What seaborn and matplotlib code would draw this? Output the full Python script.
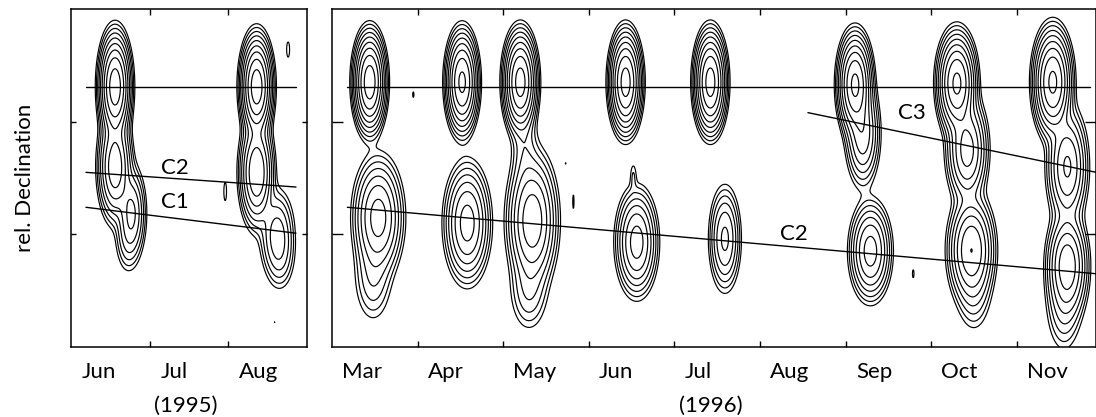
import numpy as np
import matplotlib
matplotlib.use("Agg")
import matplotlib.pyplot as plt
import matplotlib.transforms as mtransforms
import seaborn as sns

# ---------------- data ----------------
months_1995 = ["Jun", "Jul", "Aug"]
months_1996 = ["Mar", "Apr", "May", "Jun", "Jul", "Aug", "Sep", "Oct", "Nov"]

# Gaussian components (x in months from panel start, y = rel. Dec.)
p95_x   = [0.56, 0.56, 0.77, 0.72, 2.36, 2.36, 2.62, 2.66, 1.96, 2.76, 2.59]
p95_y   = [2.31, 1.60, 1.19, 0.95, 2.31, 1.55, 1.00, 0.80, 1.38, 2.64, 0.22]
p95_amp = [1.00, 0.35, 0.15, 0.03, 1.00, 0.40, 0.10, 0.03, 0.0100, 0.0100, 0.0085]
p95_sx  = [0.081, 0.09, 0.08, 0.08, 0.081, 0.09, 0.10, 0.09, 0.025, 0.028, 0.006]
p95_sy  = [0.19, 0.20, 0.18, 0.15, 0.18, 0.20, 0.18, 0.15, 0.12, 0.10, 0.03]

p96_x   = [0.44, 0.54, 0.48,  1.52, 1.58,  2.20, 2.25, 2.34, 2.30,  3.43, 3.56, 3.52,
           4.42, 4.59,  6.11, 6.20, 6.29,  7.30, 7.42, 7.47, 7.50,  8.42, 8.59, 8.59, 8.55,
           0.95, 2.73, 2.82, 6.79]
p96_y   = [2.35, 1.15, 0.62,  2.35, 1.10,  2.35, 1.75, 1.12, 0.50,  2.35, 0.93, 1.52,
           2.35, 0.96,  2.33, 1.90, 0.85,  2.34, 1.75, 0.86, 0.48,  2.35, 1.60, 0.72, 0.35,
           2.24, 1.63, 1.29, 0.65]
p96_amp = [1.00, 0.30, 0.04,  0.80, 0.30,  0.90, 0.03, 0.35, 0.04,  0.90, 0.30, 0.013,
           0.90, 0.15,  0.80, 0.20, 0.30,  0.80, 0.30, 0.40, 0.03,  0.80, 0.25, 0.35, 0.04,
           0.0090, 0.0085, 0.0095, 0.0095]
p96_sx  = [0.075, 0.12, 0.11,  0.075, 0.11,  0.078, 0.08, 0.12, 0.11,  0.075, 0.10, 0.025,
           0.075, 0.08,  0.08, 0.085, 0.10,  0.09, 0.10, 0.11, 0.10,  0.09, 0.10, 0.10, 0.10,
           0.015, 0.008, 0.012, 0.015]
p96_sy  = [0.176, 0.22, 0.20,  0.18, 0.217,  0.18, 0.20, 0.25, 0.18,  0.18, 0.195, 0.08,
           0.18, 0.20,  0.18, 0.20, 0.18,  0.18, 0.20, 0.20, 0.18,  0.19, 0.22, 0.20, 0.20,
           0.05, 0.015, 0.10, 0.06]

# component tracks
core95_x, core95_y = [0.19, 2.86], [2.31, 2.31]
c2_95_x, c2_95_y = [0.19, 2.86], [1.55, 1.42]
c1_95_x, c1_95_y = [0.19, 2.86], [1.24, 1.01]
core96_x, core96_y = [0.18, 8.86], [2.31, 2.31]
c2_96_x, c2_96_y = [0.18, 8.93], [1.24, 0.65]
c3_96_x, c3_96_y = [5.56, 8.93], [2.08, 1.55]

labels95 = [("C2", 1.32, 1.59), ("C1", 1.32, 1.29)]
labels96 = [("C3", 6.78, 2.08), ("C2", 5.39, 1.00)]

levels = 0.008 * 1.75 ** np.arange(9)

# ---------------- style ----------------
sns.set_theme(style="white")
plt.rcParams["font.family"] = ["Lato", "DejaVu Sans"]
plt.rcParams["font.weight"] = "normal"
for k in ["text.color", "axes.labelcolor", "xtick.color", "ytick.color",
          "xtick.labelcolor", "ytick.labelcolor"]:
    plt.rcParams[k] = "black"

W, H = 1096, 417
fig = plt.figure(figsize=(W / 100, H / 100), dpi=100)
fs = 16


def field(xs, ys, amp, sx, sy, xg, yg):
    X, Y = np.meshgrid(xg, yg)
    Z = np.zeros_like(X)
    for a, b, A, s1, s2 in zip(xs, ys, amp, sx, sy):
        Z += A * np.exp(-0.5 * ((X - a) / s1) ** 2 - 0.5 * ((Y - b) / s2) ** 2)
    return X, Y, Z


def setup(ax, nmon, xmax, months, year, ylen, lab_off):
    ax.set_xlim(0, xmax)
    ax.set_ylim(0, 3)
    ax.set_xticks(np.arange(1, nmon))
    ax.set_xticks(np.arange(nmon) + lab_off, minor=True)
    ax.set_xticklabels([], minor=False)
    ax.set_xticklabels(months, minor=True, fontsize=fs, color="black", ha="left")
    ax.set_yticks([1, 2])
    ax.set_yticklabels([])
    ax.tick_params(axis="x", which="major", direction="in", top=True, bottom=True,
                   length=4.5, width=1, color="black")
    ax.tick_params(axis="x", which="minor", length=0, pad=11, labelcolor="black")
    ax.tick_params(axis="y", which="major", direction="in", left=True, right=True,
                   length=ylen, width=1, color="black")
    for s in ax.spines.values():
        s.set_color("black")
        s.set_linewidth(1.1)
    trans = mtransforms.blended_transform_factory(ax.transData, ax.transAxes)
    ax.text(year[1], -0.175, year[0], transform=trans, ha="center", va="center",
            fontsize=fs, color="black")


# left panel (1995)
ax1 = fig.add_axes([71 / W, 1 - 347 / H, 236 / W, 338 / H])
xg = np.linspace(0, 3, 700)
yg = np.linspace(0, 3, 700)
X, Y, Z = field(p95_x, p95_y, p95_amp, p95_sx, p95_sy, xg, yg)
ax1.contour(X, Y, Z, levels=levels, colors="black", linewidths=0.85)
for xs, ys in [(core95_x, core95_y), (c2_95_x, c2_95_y), (c1_95_x, c1_95_y)]:
    sns.lineplot(x=xs, y=ys, ax=ax1, color="black", linewidth=1.0,
                 estimator=None, sort=False)
for t, x, y in labels95:
    ax1.text(x, y, t, fontsize=fs, ha="center", va="center", color="black")
setup(ax1, 3, 3, months_1995, ("(1995)", 1.46), 3.5, 0.14)

# right panel (1996)
xmax96 = (W - 332) / 85.6
ax2 = fig.add_axes([332 / W, 1 - 347 / H, (W - 332) / W, 338 / H])
xg = np.linspace(0, xmax96, 1800)
X, Y, Z = field(p96_x, p96_y, p96_amp, p96_sx, p96_sy, xg, yg)
ax2.contour(X, Y, Z, levels=levels, colors="black", linewidths=0.85)
for xs, ys in [(core96_x, core96_y), (c2_96_x, c2_96_y), (c3_96_x, c3_96_y)]:
    sns.lineplot(x=xs, y=ys, ax=ax2, color="black", linewidth=1.0,
                 estimator=None, sort=False)
for t, x, y in labels96:
    ax2.text(x, y, t, fontsize=fs, ha="center", va="center", color="black")
setup(ax2, 9, xmax96, months_1996, ("(1996)", 4.43), 8, 0.12)

fig.text(25 / W, 1 - 178 / H, "rel. Declination", rotation=90, ha="center",
         va="center", fontsize=fs, color="black")

fig.savefig("out.png", dpi=100, facecolor="white")
